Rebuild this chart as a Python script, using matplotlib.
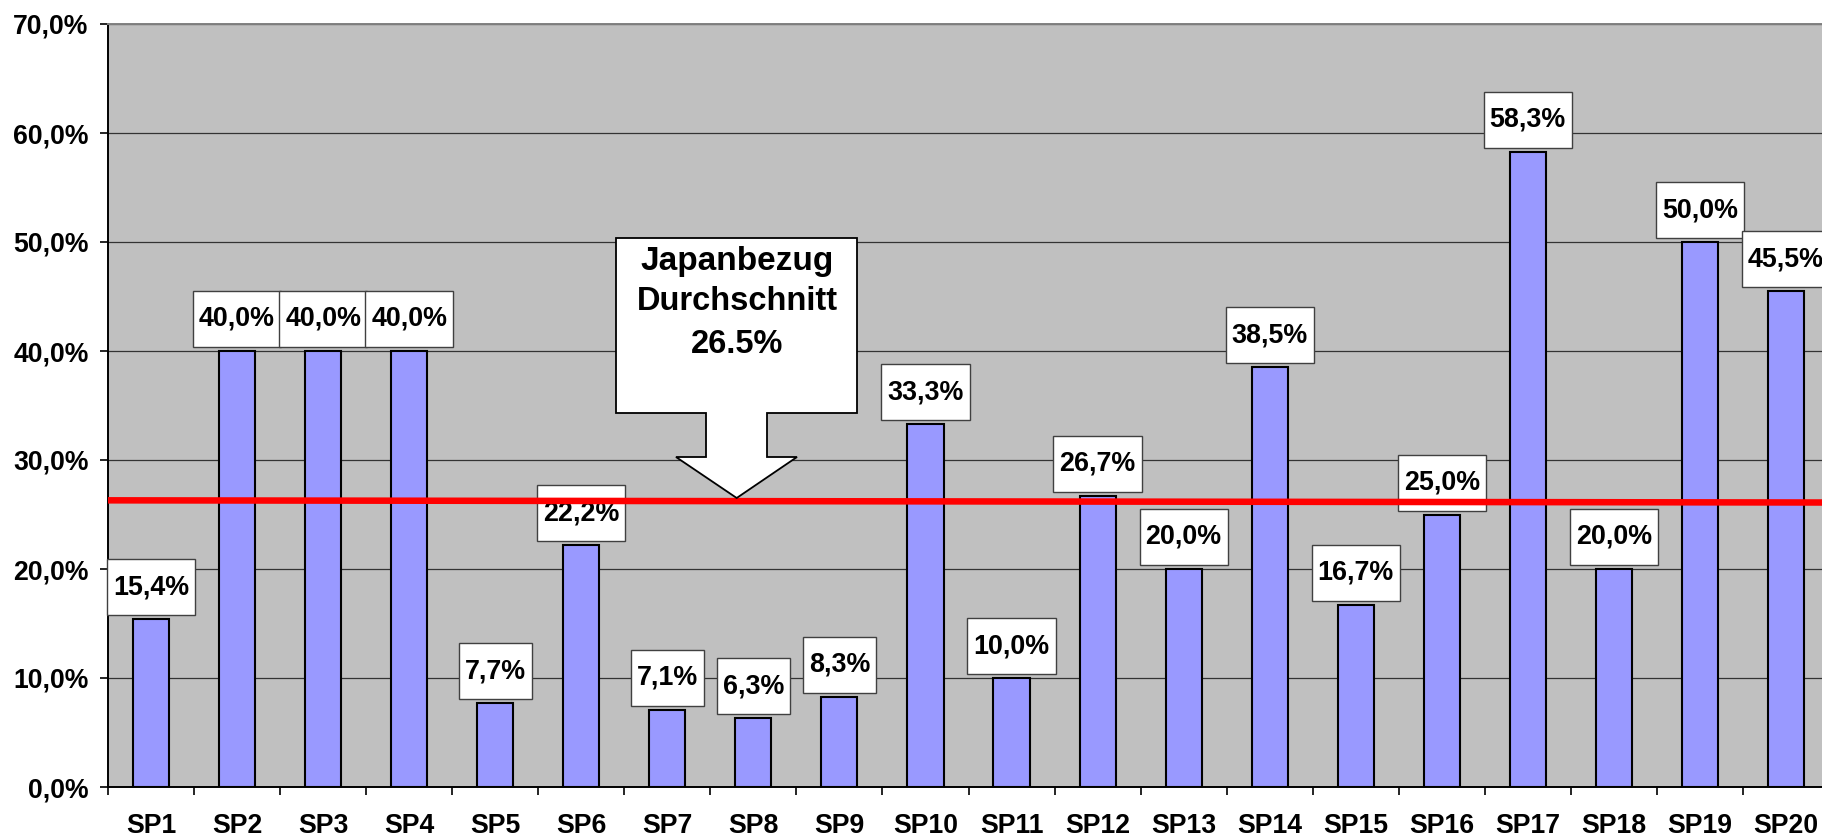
import numpy as np
import matplotlib
matplotlib.use('Agg')
import matplotlib.pyplot as plt
from matplotlib.patches import Rectangle, Polygon
from matplotlib.transforms import IdentityTransform

# ---------------- data ----------------
categories = ['SP1', 'SP2', 'SP3', 'SP4', 'SP5', 'SP6', 'SP7', 'SP8', 'SP9', 'SP10',
              'SP11', 'SP12', 'SP13', 'SP14', 'SP15', 'SP16', 'SP17', 'SP18', 'SP19', 'SP20']
values = [15.4, 40.0, 40.0, 40.0, 7.7, 22.2, 7.1, 6.3, 8.3, 33.3,
          10.0, 26.7, 20.0, 38.5, 16.7, 25.0, 58.3, 20.0, 50.0, 45.5]
value_labels = ['15,4%', '40,0%', '40,0%', '40,0%', '7,7%', '22,2%', '7,1%', '6,3%', '8,3%', '33,3%',
                '10,0%', '26,7%', '20,0%', '38,5%', '16,7%', '25,0%', '58,3%', '20,0%', '50,0%', '45,5%']
y_ticks = [0, 10, 20, 30, 40, 50, 60, 70]
y_tick_labels = ['0,0%', '10,0%', '20,0%', '30,0%', '40,0%', '50,0%', '60,0%', '70,0%']
avg_line = [26.3, 26.1]          # red average line as drawn (start, end)
callout_lines = ['Japanbezug', 'Durchschnitt', '26.5%']

# ---------------- figure ----------------
W, H = 1822, 836
plt.rcParams['font.family'] = ['Liberation Sans', 'DejaVu Sans']
fig = plt.figure(figsize=(W / 100, H / 100), dpi=100)
fig.patch.set_facecolor('white')
ax = fig.add_axes([108 / W, 1 - 787 / H, 1721 / W, 763 / H])
ax.set_facecolor('#C0C0C0')
ax.set_axisbelow(True)

x = np.arange(len(categories))
ax.bar(x, values, width=0.42, color='#9999FF', edgecolor='black', linewidth=1.5, zorder=2)

ax.set_xlim(-0.5, len(categories) - 0.5)
ax.set_ylim(0, 70)

ax.set_yticks(y_ticks)
ax.set_yticklabels(y_tick_labels, fontsize=19.2, fontweight='bold')
ax.tick_params(axis='y', length=6, width=1.2, pad=8, color='black')
ax.yaxis.grid(True, color='#333333', linewidth=0.9)

ax.set_xticks(x)
ax.set_xticklabels(categories, fontsize=19.2, fontweight='bold')
ax.set_xticks(np.arange(-0.5, len(categories), 1.0), minor=True)
ax.tick_params(axis='x', which='major', length=0, pad=18.5)
ax.tick_params(axis='x', which='minor', length=5.5, width=1.2, color='black')

for s in ['left', 'bottom']:
    ax.spines[s].set_color('black')
    ax.spines[s].set_linewidth(1.4)
ax.spines['top'].set_color('#808080')
ax.spines['top'].set_linewidth(1.4)
ax.spines['right'].set_visible(False)

# value labels
texts = []
for xi, v, lbl in zip(x, values, value_labels):
    t = ax.annotate(lbl, xy=(xi, v), xytext=(0, 25 * 0.72), textcoords='offset points',
                    ha='center', va='baseline', fontsize=19.4, fontweight='bold',
                    zorder=3.5, annotation_clip=False)
    texts.append(t)

# average line
ax.plot([-0.5, len(categories) - 0.5], avg_line, color='#FF0000', linewidth=4.7,
        zorder=4, solid_capstyle='butt')

fig.canvas.draw()
r = fig.canvas.get_renderer()
for t, xi, v in zip(texts, x, values):
    bb = t.get_window_extent(r)
    cx, ytop = ax.transData.transform((xi, v))
    w = bb.width + 12
    rect = Rectangle((cx - w / 2, ytop + 4), w, 56, transform=IdentityTransform(),
                     facecolor='white', edgecolor='#404040', linewidth=1.0, zorder=3)
    rect.set_clip_on(False)
    ax.add_patch(rect)

# callout arrow (pixel layout, top-left origin)
pts = [(616, 238), (857, 238), (857, 413), (767, 413), (767, 457), (797, 457),
       (736.7, 498), (676, 457), (706, 457), (706, 413), (616, 413)]
pts_f = [(px / W, 1 - py / H) for px, py in pts]
poly = Polygon(pts_f, closed=True, transform=fig.transFigure, facecolor='white',
               edgecolor='black', linewidth=1.3, zorder=5, joinstyle='miter')
poly.set_clip_on(False)
ax.add_patch(poly)
for line, base, fs in zip(callout_lines, [270, 310, 353], [24, 23.5, 23.5]):
    ax.text(737 / W, 1 - base / H, line, transform=fig.transFigure, ha='center',
            va='baseline', fontsize=fs, fontweight='bold', zorder=6)

fig.savefig('out.png', dpi=100)
